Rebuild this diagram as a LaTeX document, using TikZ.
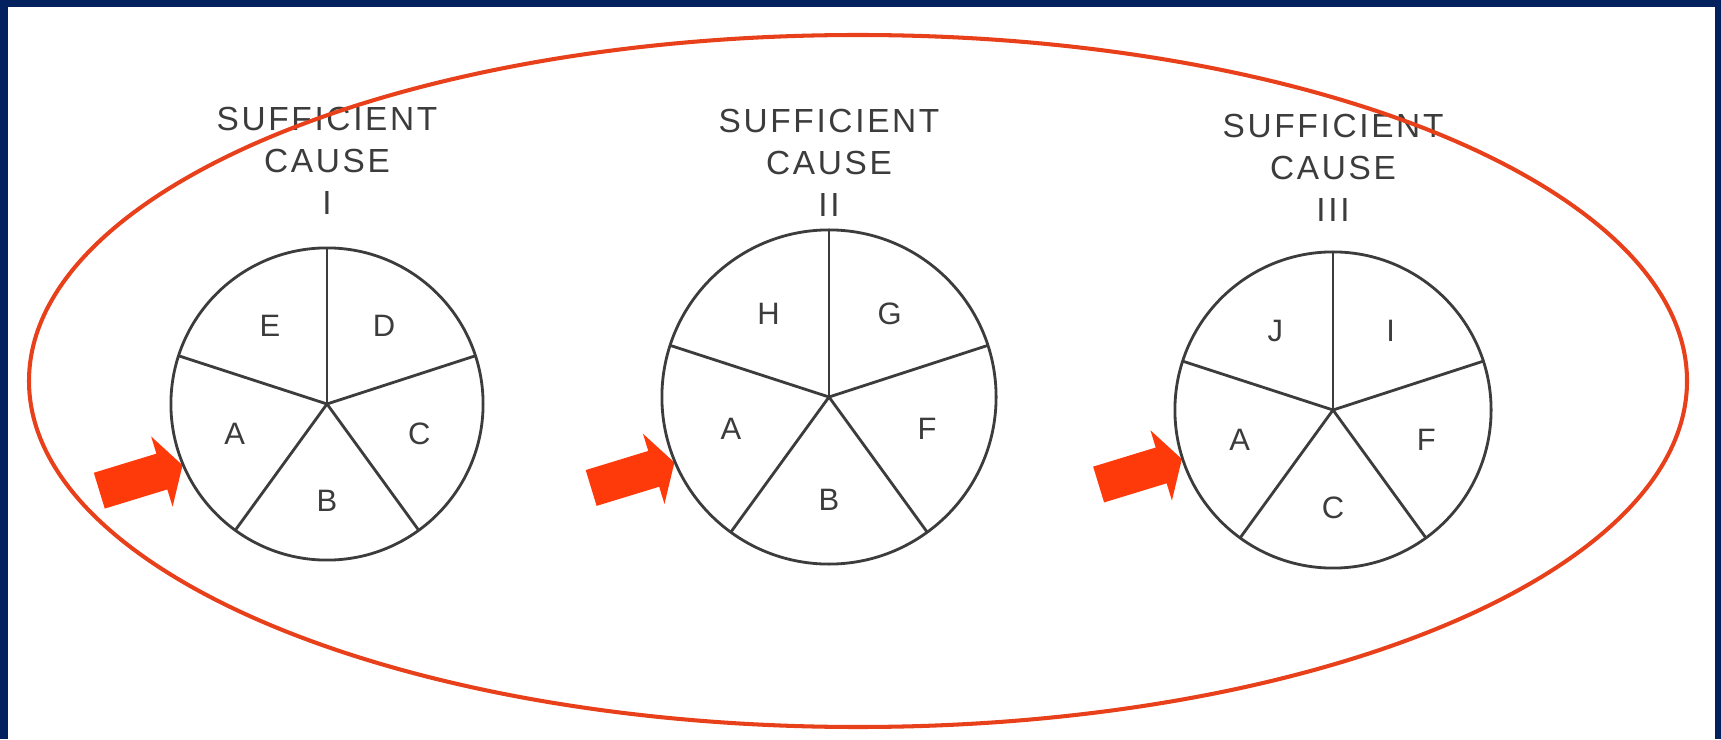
\documentclass[tikz,border=0pt]{standalone}
\usepackage{fontspec}
\setmainfont{Liberation Sans}
\newfontfamily\capfont[LetterSpace=8]{Liberation Sans}
\usepackage{xcolor}
\definecolor{frameNavy}{HTML}{03205F}
\definecolor{ringRed}{HTML}{E8401A}
\definecolor{arrowRed}{HTML}{FF3A0A}
\definecolor{inkGray}{HTML}{3C3C3C}
\usetikzlibrary{shapes.arrows, positioning, backgrounds}

\begin{document}
\begin{tikzpicture}[
    x=0.01cm, y=0.01cm,
    piecirc/.style={draw=inkGray, line width=0.8pt, circle, inner sep=0pt, outer sep=0pt},
    spokeline/.style={draw=inkGray, line width=0.8pt},
    sliceletter/.style={font=\capfont\fontsize{8.8}{10}\selectfont, text=inkGray},
    causetitle/.style={font=\capfont\fontsize{9.5}{11.95}\selectfont, text=inkGray, align=center, inner sep=0pt},
    pointer/.style={single arrow, fill=arrowRed, draw=none, rotate=17, anchor=tip, inner xsep=0pt, inner ysep=0.18cm, minimum height=0.87cm, single arrow head extend=0.18cm, single arrow tip angle=119},
    causering/.style={draw=ringRed, line width=1.15pt}
]

% navy frame
\begin{scope}[on background layer]
\fill[frameNavy] (0,0) rectangle (1721,739);
\fill[white] (8,0) rectangle (1715,732);
\end{scope}

\node (pieI) [piecirc, minimum size=3.12cm] at (327,335) {};
\node (pieII) [piecirc, minimum size=3.34cm] at (829,342) {};
\node (pieIII) [piecirc, minimum size=3.16cm] at (1333,329) {};

% five slices in every pie
\foreach \p in {pieI,pieII,pieIII}
  \foreach \a in {18,90,162,234,306}
    \draw [spokeline] (\p.center) -- (\p.\a);

\node (capI) [causetitle, above=0.33cm of pieI] {SUFFICIENT\\CAUSE\\I};
\node (capII) [causetitle, above=0.125cm of pieII] {SUFFICIENT\\CAUSE\\II};
\node (capIII) [causetitle, above=0.295cm of pieIII] {SUFFICIENT\\CAUSE\\III};

\node (sIE) [sliceletter] at ([shift={(126:97)}]pieI.center) {E};
\node (sID) [sliceletter] at ([shift={(54:97)}]pieI.center) {D};
\node (sIA) [sliceletter] at ([shift={(198:97)}]pieI.center) {A};
\node (sIB) [sliceletter] at ([shift={(270:97)}]pieI.center) {B};
\node (sIC) [sliceletter] at ([shift={(342:97)}]pieI.center) {C};

\node (sIIH) [sliceletter] at ([shift={(126:103)}]pieII.center) {H};
\node (sIIG) [sliceletter] at ([shift={(54:103)}]pieII.center) {G};
\node (sIIA) [sliceletter] at ([shift={(198:103)}]pieII.center) {A};
\node (sIIB) [sliceletter] at ([shift={(270:103)}]pieII.center) {B};
\node (sIIF) [sliceletter] at ([shift={(342:103)}]pieII.center) {F};

\node (sIIIJ) [sliceletter] at ([shift={(126:98)}]pieIII.center) {J};
\node (sIIII) [sliceletter] at ([shift={(54:98)}]pieIII.center) {I};
\node (sIIIA) [sliceletter] at ([shift={(198:98)}]pieIII.center) {A};
\node (sIIIC) [sliceletter] at ([shift={(270:98)}]pieIII.center) {C};
\node (sIIIF) [sliceletter] at ([shift={(342:98)}]pieIII.center) {F};

% red pointers onto slice A
\begin{scope}[on background layer]
\node (ptI) [pointer] at (pieI.203) {};
\node (ptII) [pointer] at (pieII.203) {};
\node (ptIII) [pointer] at (pieIII.198) {};
\end{scope}

\draw [causering] (858,358) ellipse [x radius=829, y radius=346];

\end{tikzpicture}
\end{document}
